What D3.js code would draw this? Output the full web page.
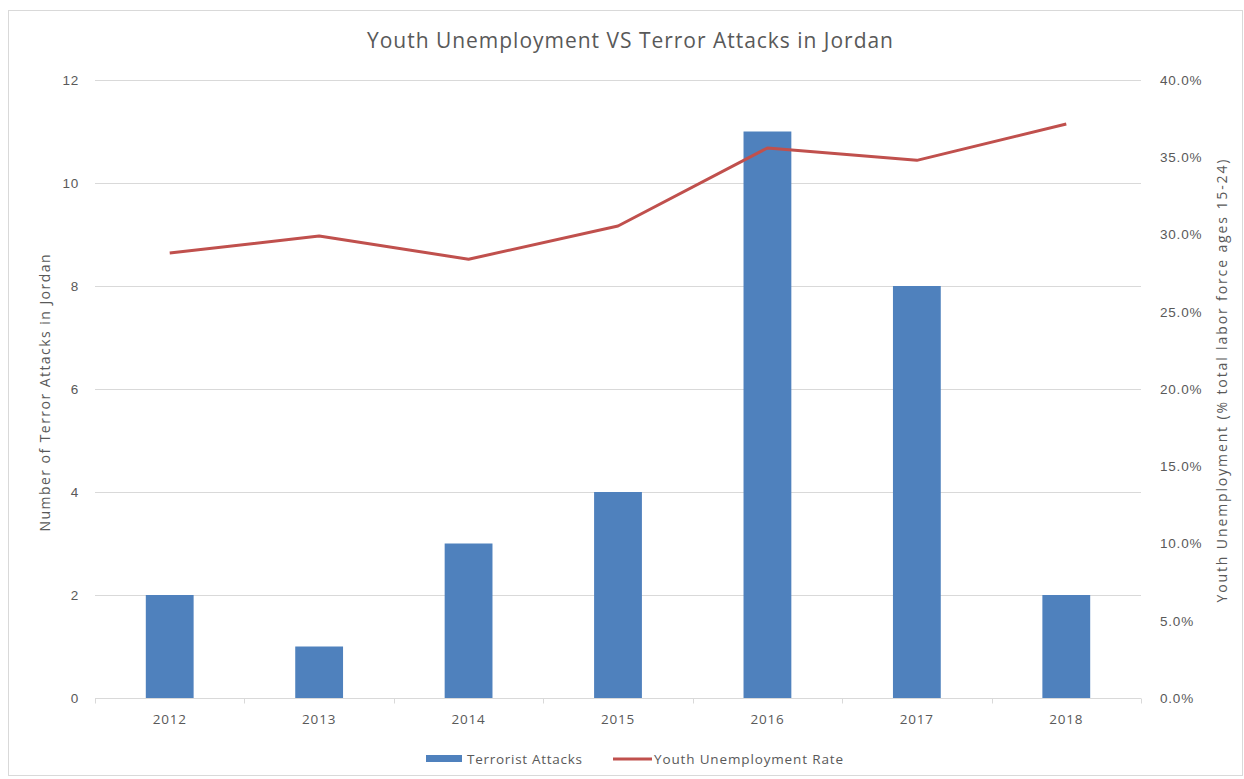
<!DOCTYPE html>
<html lang="en">
<head>
<meta charset="utf-8">
<title>Youth Unemployment VS Terror Attacks in Jordan</title>
<script src="https://d3js.org/d3.v7.min.js"></script>
<style>
  html, body { margin: 0; padding: 0; background: #fff; }
  svg { display: block; font-family: "Open Sans", Lato, sans-serif; }
  .tick text { fill: #595959; font-size: 13.5px; letter-spacing: 0.8px; }
  .grid line { stroke: #d9d9d9; }
</style>
</head>
<body>
<script>
// chart data
var years = ["2012", "2013", "2014", "2015", "2016", "2017", "2018"];
var attacks = [2, 1, 3, 4, 11, 8, 2];
var unemployment = [28.8, 29.9, 28.4, 30.55, 35.6, 34.8, 37.15];
var leftTicks = [0, 2, 4, 6, 8, 10, 12];
var rightTicks = [0, 5, 10, 15, 20, 25, 30, 35, 40];

var W = 1244, H = 779;
var m = {left: 95, right: 103, top: 80, bottom: 81};

var svg = d3.select("body").append("svg")
    .attr("width", W)
    .attr("height", H);

// outer frame
svg.append("rect")
    .attr("x", 8.5).attr("y", 10.5)
    .attr("width", W - 10).attr("height", H - 14)
    .attr("fill", "#fff")
    .attr("stroke", "#d9d9d9");

var x = d3.scaleBand().domain(years).range([m.left, W - m.right]);
var yL = d3.scaleLinear().domain([0, 12]).range([H - m.bottom, m.top]);
var yR = d3.scaleLinear().domain([0, 40]).range([H - m.bottom, m.top]);

// gridlines
svg.append("g").attr("class", "grid")
  .selectAll("line")
  .data(leftTicks.slice(1))
  .enter().append("line")
    .attr("x1", m.left).attr("x2", W - m.right)
    .attr("y1", function(d) { return Math.round(yL(d)) + 0.5; })
    .attr("y2", function(d) { return Math.round(yL(d)) + 0.5; });

// bars
var bw = x.bandwidth() * 0.32;
svg.selectAll("rect.bar")
  .data(attacks)
  .enter().append("rect")
    .attr("class", "bar")
    .attr("x", function(d, i) { return x(years[i]) + x.bandwidth() / 2 - bw / 2; })
    .attr("y", function(d) { return yL(d); })
    .attr("width", bw)
    .attr("height", function(d) { return yL(0) - yL(d); })
    .attr("fill", "#4F81BD");

// line
var line = d3.line()
    .x(function(d, i) { return x(years[i]) + x.bandwidth() / 2; })
    .y(function(d) { return yR(d); });
svg.append("path")
    .datum(unemployment)
    .attr("d", line)
    .attr("fill", "none")
    .attr("stroke", "#C0504D")
    .attr("stroke-width", 3)
    .attr("stroke-linejoin", "round");

// x axis
var xAxis = svg.append("g")
    .attr("transform", "translate(0," + (Math.round(yL(0)) + 0.5) + ")");
xAxis.append("line")
    .attr("x1", m.left).attr("x2", W - m.right)
    .attr("stroke", "#d9d9d9");
xAxis.selectAll("line.tk")
  .data(d3.range(years.length + 1))
  .enter().append("line")
    .attr("class", "tk")
    .attr("x1", function(i) { return Math.round(m.left + i * x.step()) + 0.5; })
    .attr("x2", function(i) { return Math.round(m.left + i * x.step()) + 0.5; })
    .attr("y1", 0).attr("y2", 5)
    .attr("stroke", "#d9d9d9");
xAxis.selectAll("text")
  .data(years)
  .enter().append("text")
    .attr("x", function(d) { return x(d) + x.bandwidth() / 2; })
    .attr("y", 25)
    .attr("text-anchor", "middle")
    .attr("fill", "#595959")
    .attr("font-size", 13.5)
    .attr("letter-spacing", "0.8px")
    .text(function(d) { return d; });

// left axis
var la = svg.append("g")
    .attr("transform", "translate(" + (m.left - 16) + ",0)")
    .call(d3.axisLeft(yL).tickValues(leftTicks).tickSize(0).tickPadding(0));
la.select(".domain").remove();

// right axis
var ra = svg.append("g")
    .attr("transform", "translate(" + (W - m.right + 19) + ",0)")
    .call(d3.axisRight(yR).tickValues(rightTicks).tickSize(0).tickPadding(0)
      .tickFormat(function(d) { return d.toFixed(1) + "%"; }));
ra.select(".domain").remove();

// stretch a label to a given width (Calibri-like spacing of the original)
function fit(sel, w) {
  sel.attr("textLength", w).attr("lengthAdjust", "spacing");
}

// title
svg.append("text")
    .attr("x", 630).attr("y", 48)
    .attr("text-anchor", "middle")
    .attr("fill", "#595959")
    .attr("font-size", 21)
    .text("Youth Unemployment VS Terror Attacks in Jordan")
    .call(fit, 526);

// axis titles
svg.append("text")
    .attr("transform", "translate(50,393) rotate(-90)")
    .attr("text-anchor", "middle")
    .attr("fill", "#595959")
    .attr("font-size", 14)
    .text("Number of Terror Attacks in Jordan")
    .call(fit, 277);
svg.append("text")
    .attr("transform", "translate(1227,381) rotate(-90)")
    .attr("text-anchor", "middle")
    .attr("fill", "#595959")
    .attr("font-size", 14)
    .text("Youth Unemployment (% total labor force ages 15-24)")
    .call(fit, 443);

// legend
var lg = svg.append("g").attr("transform", "translate(0,759)");
lg.append("rect")
    .attr("x", 426).attr("y", -4)
    .attr("width", 36).attr("height", 7)
    .attr("fill", "#4F81BD");
lg.append("text")
    .attr("x", 467).attr("y", 5)
    .attr("fill", "#595959").attr("font-size", 13.5)
    .text("Terrorist Attacks")
    .call(fit, 115);
lg.append("line")
    .attr("x1", 613).attr("x2", 652)
    .attr("y1", 0).attr("y2", 0)
    .attr("stroke", "#C0504D").attr("stroke-width", 3);
lg.append("text")
    .attr("x", 654).attr("y", 5)
    .attr("fill", "#595959").attr("font-size", 13.5)
    .text("Youth Unemployment Rate")
    .call(fit, 189);
</script>
</body>
</html>
